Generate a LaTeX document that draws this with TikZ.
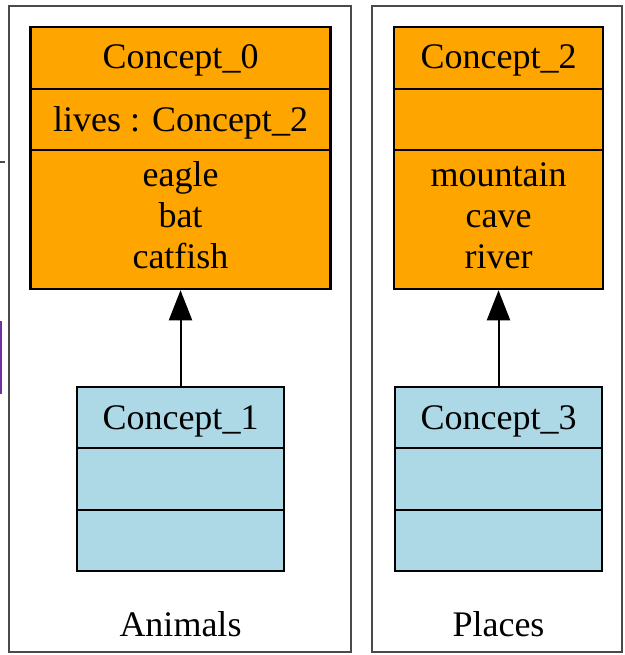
\documentclass[tikz,border=0pt]{standalone}
\usepackage{fontspec}
\setmainfont{Liberation Serif}
\usetikzlibrary{arrows.meta}
\definecolor{conceptorange}{HTML}{FFA500}
\definecolor{conceptblue}{HTML}{ADD8E6}
\definecolor{clusterline}{HTML}{4A4A4A}
\definecolor{edgepurple}{RGB}{112,48,160}
\tikzset{
  lbl/.style={font=\fontsize{36}{41}\selectfont, anchor=base, inner sep=0pt},
  recbox/.style={draw=black, line width=2.5pt, inner sep=0pt},
  orangebox/.style={recbox, fill=conceptorange, minimum width=300pt, minimum height=262pt},
  orangebox2/.style={recbox, fill=conceptorange, minimum width=209pt, minimum height=262pt},
  bluebox/.style={recbox, fill=conceptblue, minimum width=207pt, minimum height=184pt},
  divider/.style={draw=black, line width=2.5pt},
  cluster/.style={draw=clusterline, line width=2.5pt},
  isa/.style={draw=black, line width=2pt, -{Triangle[length=30pt, width=23pt]}}
}
\begin{document}
\begin{tikzpicture}[x=1pt, y=-1pt]
  \useasboundingbox (0,0) rectangle (624,655);
  \fill[white] (0,0) rectangle (624,655);

  % small marks along the left edge
  \fill[clusterline] (0,161) rectangle (5,163);
  \fill[edgepurple] (0,321) rectangle (2,394);

  % clusters
  \draw[cluster] (9,6) rectangle (351,652);
  \draw[cluster] (372,6) rectangle (622,652);
  \node[lbl] (animals) at (180.5,636) {Animals};
  \node[lbl] (places) at (498.5,636) {Places};

  % Concept_0 record
  \node[orangebox] (c0) at (180.5,158) {};
  \draw[divider] (c0.west |- 0,89) -- (c0.east |- 0,89);
  \draw[divider] (c0.west |- 0,150) -- (c0.east |- 0,150);
  \node[lbl] (c0name) at (180.5,69) {Concept\_0};
  \node[lbl] (c0attr) at (180.5,132) {lives : Concept\_2};
  \node[lbl] (c0a) at (180.5,186) {eagle};
  \node[lbl] (c0b) at (180.5,227) {bat};
  \node[lbl] (c0c) at (180.5,268) {catfish};

  % Concept_2 record
  \node[orangebox2] (c2) at (498.5,158) {};
  \draw[divider] (c2.west |- 0,89) -- (c2.east |- 0,89);
  \draw[divider] (c2.west |- 0,150) -- (c2.east |- 0,150);
  \node[lbl] (c2name) at (498.5,69) {Concept\_2};
  \node[lbl] (c2a) at (498.5,186) {mountain};
  \node[lbl] (c2b) at (498.5,227) {cave};
  \node[lbl] (c2c) at (498.5,268) {river};

  % Concept_1 record
  \node[bluebox] (c1) at (180.5,479) {};
  \draw[divider] (c1.west |- 0,448) -- (c1.east |- 0,448);
  \draw[divider] (c1.west |- 0,510) -- (c1.east |- 0,510);
  \node[lbl] (c1name) at (180.5,429) {Concept\_1};

  % Concept_3 record
  \node[bluebox] (c3) at (498.5,479) {};
  \draw[divider] (c3.west |- 0,448) -- (c3.east |- 0,448);
  \draw[divider] (c3.west |- 0,510) -- (c3.east |- 0,510);
  \node[lbl] (c3name) at (498.5,429) {Concept\_3};

  % generalisation edges
  \draw[isa] (c1.north) -- (c0.south);
  \draw[isa] (c3.north) -- (c2.south);
\end{tikzpicture}
\end{document}
